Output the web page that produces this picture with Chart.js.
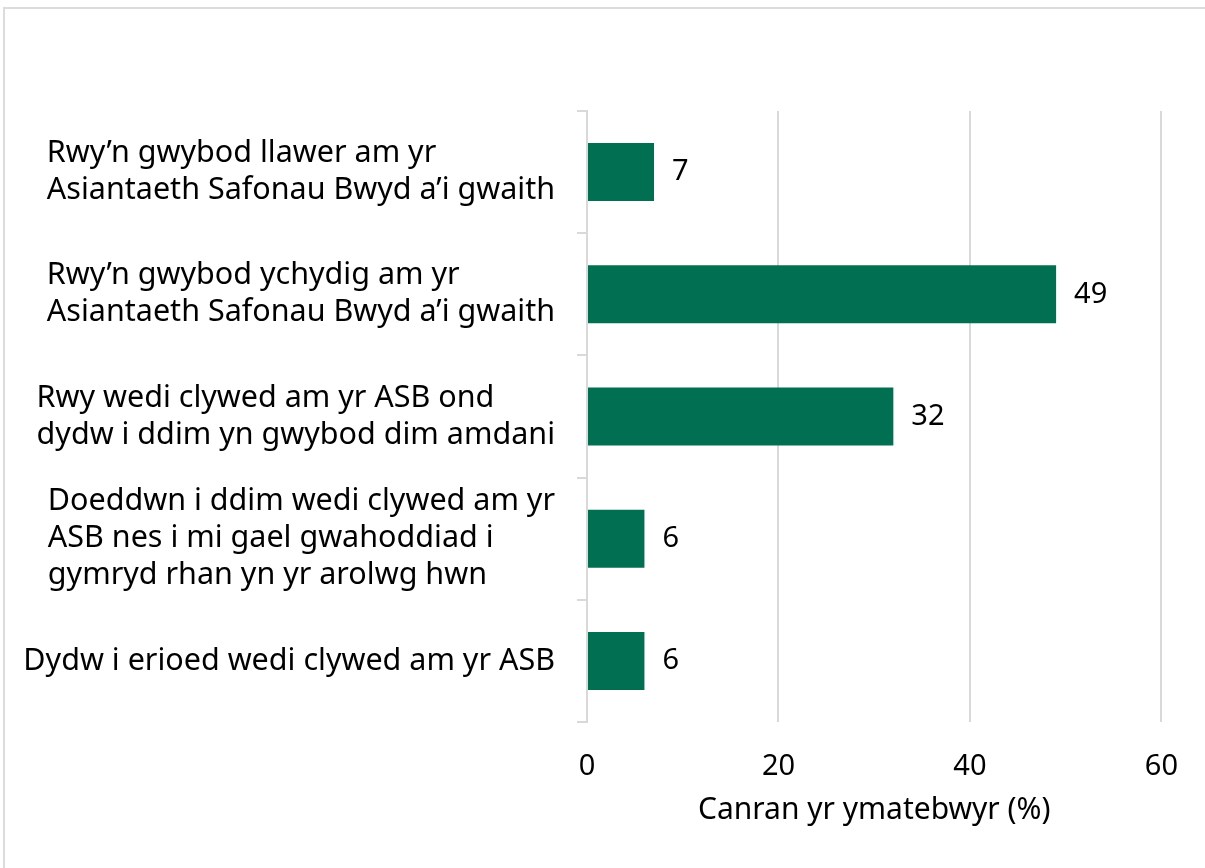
<!DOCTYPE html>
<html>
<head>
<meta charset="utf-8">
<script src="https://cdn.jsdelivr.net/npm/chart.js@4.4.1/dist/chart.umd.min.js"></script>
<style>
  html, body { margin: 0; padding: 0; background: #fff; }
  #frame { position: absolute; left: 3px; top: 7px; width: 1210px; height: 870px; border: 2px solid #dcdcdc; box-sizing: border-box; }
  #wrap { position: absolute; left: 0; top: 0; width: 1205px; height: 868px; }
</style>
</head>
<body>
<div id="frame"></div>
<div id="wrap"><canvas id="chart"></canvas></div>
<script>
// categories (one array per line of the label)
var categories = [
    ["Rwy\u2019n gwybod llawer am yr", "Asiantaeth Safonau Bwyd a\u2019i gwaith"],
    ["Rwy\u2019n gwybod ychydig am yr", "Asiantaeth Safonau Bwyd a\u2019i gwaith"],
    ["Rwy wedi clywed am yr ASB ond", "dydw i ddim yn gwybod dim amdani"],
    ["Doeddwn i ddim wedi clywed am yr", "ASB nes i mi gael gwahoddiad i", "gymryd rhan yn yr arolwg hwn"],
    ["Dydw i erioed wedi clywed am yr ASB"]
];
var values = [7, 49, 32, 6, 6];
var xTicks = [0, 20, 40, 60];
var xTitle = "Canran yr ymatebwyr (%)";

var FONT = "'Noto Sans', sans-serif";
var barColor = "#006F52";
var gridColor = "#d9d9d9";

// draws the category labels: lines left aligned, block right aligned
var catLabels = {
    id: 'catLabels',
    afterDraw: function(chart) {
        var ctx = chart.ctx;
        var yScale = chart.scales.y;
        var rightEdge = 555;
        var lineH = 37;
        ctx.save();
        ctx.font = "30.5px " + FONT;
        ctx.fillStyle = "#000";
        ctx.textBaseline = "middle";
        ctx.textAlign = "left";
        categories.forEach(function(lines, i) {
            var y = yScale.getPixelForTick(i);
            var w = 0;
            lines.forEach(function(l) { w = Math.max(w, ctx.measureText(l).width); });
            var x0 = rightEdge - w;
            var y0 = y - (lines.length - 1) * lineH / 2;
            lines.forEach(function(l, j) { ctx.fillText(l, x0, y0 + j * lineH); });
        });
        ctx.restore();
    }
};

// value labels at bar ends
var valueLabels = {
    id: 'valueLabels',
    afterDatasetsDraw: function(chart) {
        var ctx = chart.ctx;
        var meta = chart.getDatasetMeta(0);
        ctx.save();
        ctx.font = "29px " + FONT;
        ctx.fillStyle = "#000";
        ctx.textBaseline = "middle";
        ctx.textAlign = "left";
        meta.data.forEach(function(bar, i) {
            ctx.fillText(String(values[i]), bar.x + 18, bar.y);
        });
        ctx.restore();
    }
};

var ctx = document.getElementById('chart');
new Chart(ctx, {
    type: 'bar',
    data: {
        labels: categories.map(function(c) { return c.join(' '); }),
        datasets: [{
            data: values,
            backgroundColor: barColor,
            borderWidth: 0,
            barPercentage: 0.95,
            categoryPercentage: 0.5
        }]
    },
    options: {
        indexAxis: 'y',
        responsive: true,
        maintainAspectRatio: false,
        animation: false,
        layout: { padding: { top: 111, right: 43, left: 0, bottom: 0 } },
        plugins: { legend: { display: false }, tooltip: { enabled: false } },
        scales: {
            x: {
                min: 0, max: 60,
                afterBuildTicks: function(scale) {
                    scale.ticks = xTicks.map(function(v) { return { value: v }; });
                },
                afterFit: function(scale) { scale.height = 146; },
                grid: { color: gridColor, lineWidth: 2, drawTicks: false },
                border: { display: false },
                ticks: { color: "#000", font: { family: FONT, size: 29 }, padding: 27 },
                title: {
                    display: true, text: xTitle, color: "#000",
                    font: { family: FONT, size: 30 }, padding: { top: 0, bottom: 40 }
                }
            },
            y: {
                afterFit: function(scale) { scale.width = 587; },
                grid: { offset: true, drawOnChartArea: false, color: gridColor, lineWidth: 2, tickLength: 10 },
                border: { display: true, color: gridColor, width: 2 },
                ticks: { display: false }
            }
        }
    },
    plugins: [catLabels, valueLabels]
});
</script>
</body>
</html>
